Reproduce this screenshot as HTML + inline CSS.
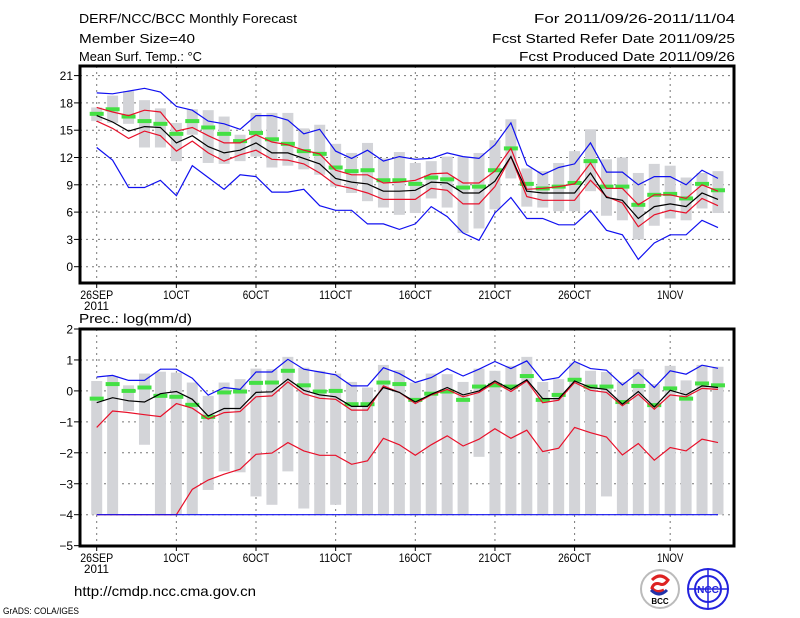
<!DOCTYPE html>
<html><head><meta charset="utf-8"><style>
html,body{margin:0;padding:0;background:#fff;}
svg{display:block;}
text{font-family:"Liberation Sans",sans-serif;fill:#000;}
</style></head><body>
<svg id="chart" width="800" height="618" viewBox="0 0 800 618" xmlns="http://www.w3.org/2000/svg">
<rect width="800" height="618" fill="#fff"/>
<g font-size="13">
<text x="79" y="23" textLength="218" lengthAdjust="spacingAndGlyphs">DERF/NCC/BCC Monthly Forecast</text>
<text x="79" y="43" textLength="116" lengthAdjust="spacingAndGlyphs">Member Size=40</text>
<text x="79" y="61" textLength="123" lengthAdjust="spacingAndGlyphs">Mean Surf. Temp.: °C</text>
<text x="735" y="23" text-anchor="end" textLength="201" lengthAdjust="spacingAndGlyphs">For 2011/09/26-2011/11/04</text>
<text x="735" y="43" text-anchor="end" textLength="243" lengthAdjust="spacingAndGlyphs">Fcst Started Refer Date 2011/09/25</text>
<text x="735" y="61" text-anchor="end" textLength="216" lengthAdjust="spacingAndGlyphs">Fcst Produced Date 2011/09/26</text>
</g>
<g id="topPanel"></g>
<g id="botPanel"></g>
<text x="79" y="323" font-size="13" textLength="113" lengthAdjust="spacingAndGlyphs">Prec.: log(mm/d)</text>
<text x="74" y="596" font-size="14" textLength="182" lengthAdjust="spacingAndGlyphs">http://cmdp.ncc.cma.gov.cn</text>
<text x="3" y="614" font-size="9" textLength="76" lengthAdjust="spacingAndGlyphs">GrADS: COLA/IGES</text>
<g>
<circle cx="660" cy="589" r="19" fill="#fff" stroke="#bbb" stroke-width="2"/>
<path d="M652 580 q8 -8 16 0 q-4 6 -8 4 q-6 -2 -8 4 q4 6 12 2" fill="none" stroke="#d22" stroke-width="3"/>
<path d="M651 590 q8 8 16 0" fill="none" stroke="#23a" stroke-width="3"/>
<text x="660" y="604" font-size="8" font-weight="bold" text-anchor="middle">BCC</text>
</g>
<g>
<circle cx="708" cy="589" r="20" fill="#fff" stroke="#22d" stroke-width="2"/>
<circle cx="708" cy="589" r="13" fill="none" stroke="#22d" stroke-width="2"/>
<path d="M688 589 h40 M708 569 v40" stroke="#22d" stroke-width="1.5"/>
<text x="708" y="593" font-size="10" font-weight="bold" text-anchor="middle" style="fill:#22d">NCC</text>
</g>
</svg>
<script>
// ---------- shared ----------
const days = 40;
const xTickLabels = ['26SEP','1OCT','6OCT','11OCT','16OCT','21OCT','26OCT','1NOV'];
const xTickDays = [0,5,10,15,20,25,30,36];

// ---------- temperature panel data ----------
const tBlueHi = [19.1,19.0,19.3,19.6,19.2,17.6,17.2,16.0,15.7,15.1,16.6,16.6,16.1,14.6,15.1,12.7,11.9,12.8,11.6,12.1,11.8,11.9,12.5,12.1,11.9,13.4,15.8,11.2,10.1,10.9,11.3,13.6,10.4,10.4,9.0,9.9,9.9,9.0,10.6,9.7];
const tBlueLo = [13.1,11.7,8.7,8.7,9.5,7.8,11.1,9.8,8.5,10.1,9.9,8.2,8.2,8.5,6.7,6.2,6.2,4.7,4.7,4.1,4.7,6.6,5.5,3.7,2.9,5.9,7.6,5.3,5.3,4.6,4.6,6.2,4.0,3.5,0.8,2.6,3.5,3.5,5.1,4.3];
const tRedHi = [17.5,17.0,16.6,17.2,17.0,14.9,15.3,14.4,13.6,13.6,14.5,13.7,13.4,12.8,12.4,10.6,10.1,10.1,9.2,9.3,9.5,10.2,10.3,9.2,9.2,10.5,13.0,8.5,8.6,8.8,9.1,11.4,8.6,8.6,6.8,7.9,7.9,7.5,9.0,8.3];
const tRedLo = [16.0,15.2,14.1,14.9,14.4,12.7,13.8,12.5,11.6,12.3,12.8,11.8,11.7,11.3,10.3,9.0,8.6,8.1,7.4,7.4,7.4,8.6,8.4,6.9,6.9,8.8,12.1,7.7,7.3,7.3,7.3,9.5,7.7,7.0,4.4,5.7,6.2,5.9,7.5,6.7];
const tMean = [16.6,15.9,14.9,15.4,15.3,13.6,14.4,13.2,12.5,12.8,13.6,12.5,12.5,11.9,11.3,9.7,9.3,9.1,8.3,8.3,8.4,9.3,9.2,8.1,8.1,9.4,12.1,8.3,8.1,8.1,8.1,10.3,7.6,7.3,5.3,6.6,6.9,6.6,8.1,7.4];
const tGreen = [16.8,17.3,16.5,16.0,15.7,14.6,16.0,15.3,14.6,13.8,14.7,14.0,13.5,12.7,12.4,10.9,10.5,10.6,9.5,9.5,9.1,9.8,9.6,8.7,8.8,10.6,13.0,9.1,8.6,8.8,9.2,11.6,8.8,8.8,6.8,7.9,8.0,7.5,9.1,8.4];
const tBarHi = [17.5,18.8,19.3,18.3,17.4,15.8,17.3,17.2,16.5,14.5,16.9,16.9,16.9,15.2,15.6,13.5,12.5,13.6,11.9,12.6,11.4,11.6,12.1,12.1,12.5,13.9,16.2,10.8,10.5,11.4,12.7,15.1,11.8,12.0,10.3,11.3,11.1,9.8,10.3,10.5];
const tBarLo = [16.0,15.8,15.7,13.1,13.1,11.6,14.5,11.4,11.3,11.6,12.1,10.9,11.1,10.7,10.1,8.8,8.1,7.2,6.5,5.7,5.9,7.5,6.5,3.7,4.2,6.3,9.7,6.6,6.5,6.1,6.1,8.3,5.6,5.1,3.0,4.5,5.3,5.1,6.4,5.9];
const tTicks = [0,3,6,9,12,15,18,21];

// ---------- precipitation panel data ----------
const pBlueHi = [0.45,0.5,0.34,0.34,0.7,0.7,0.41,-0.14,0.11,0.05,0.61,0.61,1.02,0.70,0.61,0.52,0.16,0.16,0.75,0.56,0.27,0.43,0.72,0.48,0.70,0.95,0.72,0.97,0.34,0.43,0.95,0.72,0.67,0.19,0.59,0.11,0.65,0.54,0.83,0.73];
const pBlueLo = [-4,-4,-4,-4,-4,-4,-4,-4,-4,-4,-4,-4,-4,-4,-4,-4,-4,-4,-4,-4,-4,-4,-4,-4,-4,-4,-4,-4,-4,-4,-4,-4,-4,-4,-4,-4,-4,-4,-4,-4];
const pRedHi = [-1.18,-0.65,-0.70,-0.77,-0.83,-0.41,-0.56,-0.91,-0.70,-0.67,-0.19,-0.16,0.29,-0.09,-0.24,-0.27,-0.62,-0.62,0.16,-0.05,-0.41,-0.13,0.05,-0.19,-0.05,0.27,-0.02,0.32,-0.38,-0.30,0.27,0.02,-0.05,-0.48,-0.11,-0.59,-0.13,-0.19,0.08,0.05];
const pRedLo = [-4,-4,-4,-4,-4,-4,-3.18,-2.88,-2.69,-2.53,-2.05,-2.01,-1.67,-1.94,-2.08,-2.08,-2.37,-2.26,-1.53,-1.74,-2.08,-1.74,-1.45,-1.78,-1.56,-1.22,-1.53,-1.27,-1.96,-1.85,-1.18,-1.35,-1.49,-2.07,-1.70,-2.24,-1.83,-1.94,-1.56,-1.67];
const pMean = [-0.38,-0.22,-0.32,-0.36,-0.09,-0.02,-0.27,-0.81,-0.57,-0.57,-0.05,-0.03,0.38,0.02,-0.13,-0.19,-0.50,-0.50,0.11,-0.05,-0.36,-0.11,0.11,-0.13,0,0.32,0.05,0.36,-0.25,-0.25,0.32,0.11,0.05,-0.43,-0.02,-0.52,0.02,-0.13,0.16,0.11];
const pGreen = [-0.25,0.22,0,0.11,-0.16,-0.19,-0.45,-0.84,-0.05,-0.02,0.26,0.27,0.65,0.18,-0.02,0,-0.43,-0.43,0.27,0.22,-0.29,-0.09,-0.02,-0.29,0.14,0.18,0.14,0.48,-0.29,-0.13,0.36,0.14,0.14,-0.36,0.16,-0.46,0.08,-0.25,0.24,0.18];
const pBarHi = [0.32,0.48,0.18,0.56,0.62,0.59,0.27,-0.16,0.27,0.38,0.72,0.70,1.1,0.75,0.65,0.56,0.29,0.11,0.84,0.67,0.27,0.56,0.54,0.29,0.72,0.65,0.81,1.1,0.29,0.38,0.91,0.65,0.61,0.29,0.70,0.22,0.81,0.34,0.84,0.78];
const pBarLo = [-4,-4,-0.65,-1.74,-4,-4,-4,-3.2,-2.6,-2.63,-3.41,-3.68,-2.6,-3.8,-4,-3.68,-4,-4,-4,-4,-4,-4,-4,-4,-2.13,-4,-4,-4,-4,-4,-4,-4,-3.41,-4,-4,-4,-4,-4,-4,-4];
const pTicks = [-5,-4,-3,-2,-1,0,1,2];

const NS = 'http://www.w3.org/2000/svg';
function mk(parent, tag, attrs){
  const e = document.createElementNS(NS, tag);
  for (const k in attrs) e.setAttribute(k, attrs[k]);
  parent.appendChild(e);
  return e;
}
const X0 = 96.7, DX = 15.93;
function xs(d){ return X0 + d*DX; }

function panel(g, cfg){
  const ys = v => cfg.y0 + (v - cfg.v0) * cfg.py;
  cfg.ticks.forEach(t=>{
    if (t === cfg.ticks[0] && cfg.skipFirstGrid) return;
    const l = mk(g,'line',{x1:80,x2:734,y1:ys(t),y2:ys(t),stroke:'#777','stroke-width':1,'stroke-dasharray':'2,4'});
    
    
  });
  xTickDays.forEach(d=>{
    const l = mk(g,'line',{x1:xs(d),x2:xs(d),y1:cfg.top,y2:cfg.bottom,stroke:'#777','stroke-width':1,'stroke-dasharray':'2,4'});
    
    
  });
  for (let d=0; d<days; d++){
    const y1 = ys(cfg.barHi[d]), y2 = ys(cfg.barLo[d]);
    const r = mk(g,'rect',{x:xs(d)-5.5,y:Math.min(y1,y2),width:11,height:Math.abs(y2-y1),fill:'#d3d4d8'});
    
    
  }
  function line(arr, color, w, name){
    const p = mk(g,'polyline',{points:arr.map((v,d)=>xs(d).toFixed(1)+','+ys(v).toFixed(1)).join(' '),fill:'none',stroke:color,'stroke-width':w});
    
    
  }
  for (let d=0; d<days; d++){
    const r = mk(g,'rect',{x:xs(d)-7,y:ys(cfg.green[d])-2,width:14,height:4,fill:'#44e044'});
    
    
  }
  line(cfg.redLo,'#e8102a',1.2,'red-lower-line');
  line(cfg.blueLo,'#1010f0',1.2,'blue-lower-line');
  line(cfg.redHi,'#e8102a',1.2,'red-upper-line');
  line(cfg.blueHi,'#1010f0',1.2,'blue-upper-line');
  line(cfg.mean,'#000',1.2,'ensemble-mean-line');
  const f = mk(g,'rect',{x:80,y:cfg.top,width:654,height:cfg.bottom-cfg.top,fill:'none',stroke:'#000','stroke-width':3});
  
  
  cfg.ticks.forEach(t=>{
    mk(g,'line',{x1:74,x2:80,y1:ys(t),y2:ys(t),stroke:'#000','stroke-width':1});
    const tx = mk(g,'text',{x:73,y:ys(t)+4.5,'text-anchor':'end','font-size':12});
    tx.textContent = String(t).replace('-','\u2212');
    
    
  });
  xTickDays.forEach((d,i)=>{
    mk(g,'line',{x1:xs(d),x2:xs(d),y1:cfg.bottom,y2:cfg.bottom+5,stroke:'#000','stroke-width':1});
    const tx = mk(g,'text',{x:xs(d),y:cfg.bottom+16,'text-anchor':'middle','font-size':12,textLength:xTickLabels[i].length*6.6,lengthAdjust:'spacingAndGlyphs'});
    tx.textContent = xTickLabels[i];
    
    
  });
  const yr = mk(g,'text',{x:84,y:cfg.bottom+27,'font-size':12,textLength:25,lengthAdjust:'spacingAndGlyphs'});
  yr.textContent = '2011';
  
  
}

const topPanel = document.getElementById('topPanel');


panel(topPanel, {top:66,bottom:283,y0:266.7,v0:0,py:-9.1,ticks:tTicks,
  barHi:tBarHi,barLo:tBarLo,green:tGreen,redLo:tRedLo,redHi:tRedHi,blueLo:tBlueLo,blueHi:tBlueHi,mean:tMean});

const botPanel = document.getElementById('botPanel');


panel(botPanel, {top:329,bottom:546,y0:390.9,v0:0,py:-30.95,ticks:pTicks,skipFirstGrid:true,
  barHi:pBarHi,barLo:pBarLo,green:pGreen,redLo:pRedLo,redHi:pRedHi,blueLo:pBlueLo,blueHi:pBlueHi,mean:pMean});
</script>
</body></html>
